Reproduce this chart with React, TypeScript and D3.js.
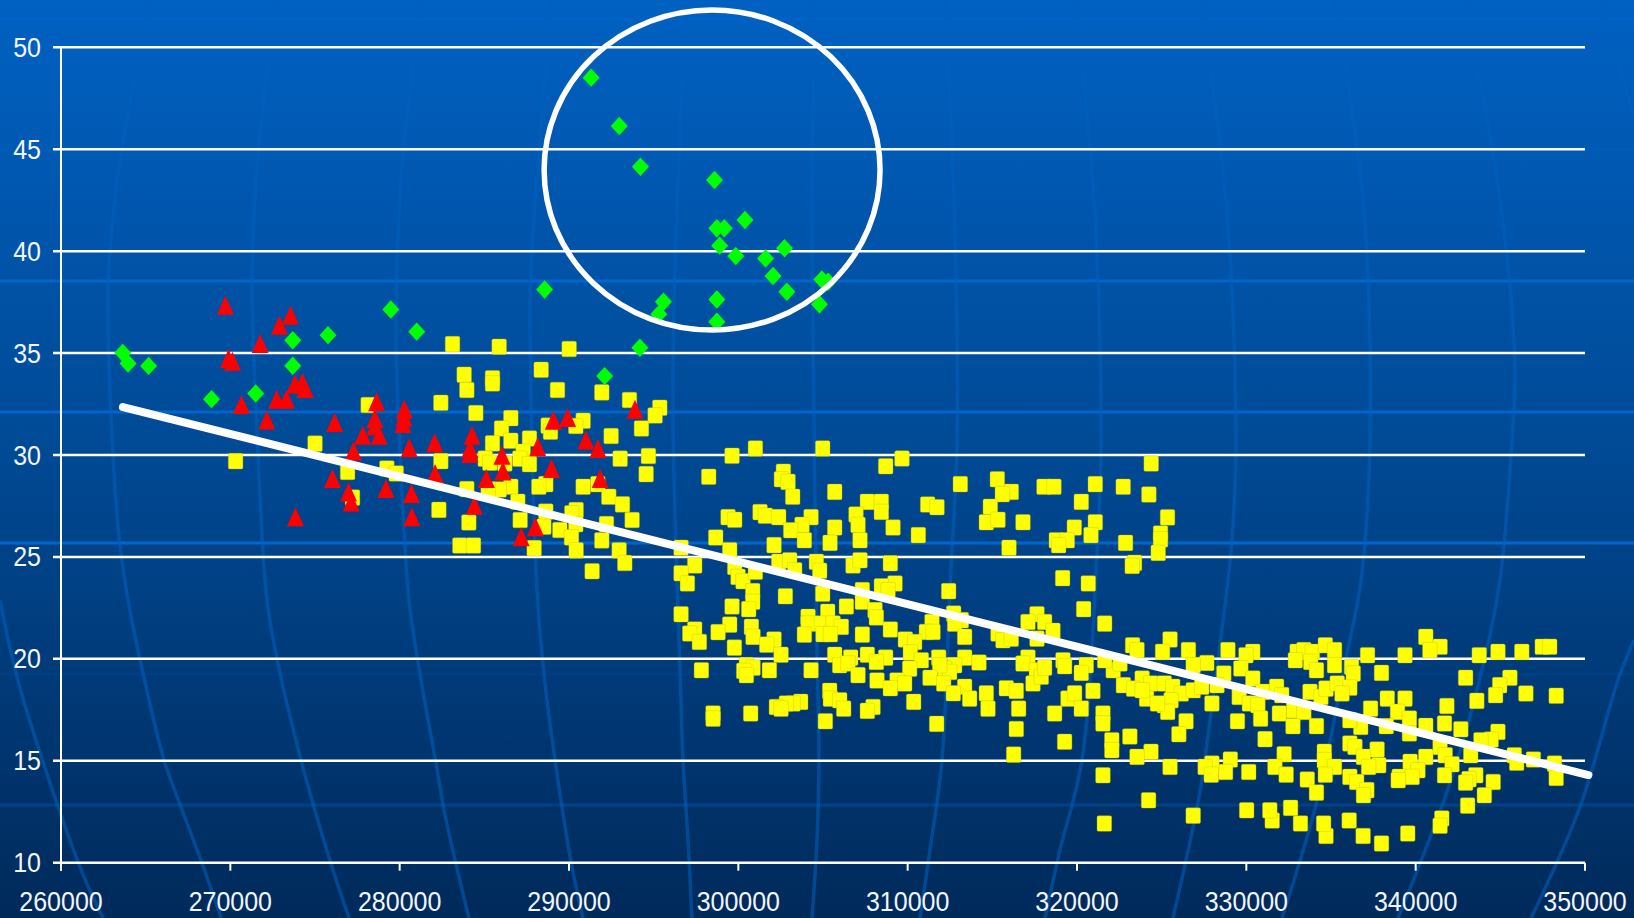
import React from "react";
import * as d3 from "d3";

const W = 1634, H = 918;
const xTicks = [260000, 270000, 280000, 290000, 300000, 310000, 320000, 330000, 340000, 350000];
const yTicks = [10, 15, 20, 25, 30, 35, 40, 45, 50];

const yellow: number[][] = [
[270312,29.70],[275002,30.56],[278138,32.45],[276926,29.17],[277215,27.91],[279244,29.34],[279798,29.09],
[283121,35.44],[285876,35.31],[290009,35.20],[288356,34.18],[283809,33.94],[285482,33.76],[285482,33.51],[283967,33.19],[289320,33.19],[291937,33.07],[293571,32.70],[282432,32.56],[284498,32.06],[295362,32.32],[295086,31.94],[286565,31.81],[286014,31.30],[294279,31.30],[290835,31.68],[290402,31.42],[288769,31.44],[288907,31.14],[292488,30.93],[286565,30.70],[287667,30.81],[285482,30.57],[293020,29.82],[294692,29.95],[282432,29.70],[285049,29.82],[287293,30.16],[287096,29.82],[287667,29.55],[285325,29.62],[286210,29.59],[294555,29.06],[288631,28.57],[288218,28.44],[290835,28.44],[291701,28.57],[292351,27.95],[293157,27.58],[283967,28.33],[286565,28.44],[285876,28.31],[285226,28.31],[286978,27.71],[282314,27.31],[288631,27.22],[290422,27.30],[290166,27.14],[284085,26.69],[287116,26.81],[293728,26.81],[292213,26.61],[290402,26.61],[288513,26.48],[289458,26.32],[290146,25.96],[291937,25.81],[283554,25.56],[284360,25.56],[287942,25.43],[290422,25.32],[292961,25.32],[293295,24.70],[291366,24.30],
[324382,29.58],[322729,28.44],[324245,28.06],[325347,26.94],[324933,26.15],[324933,25.86],[324796,25.20],[322867,25.69],[323398,24.71],[323261,24.56],
[299629,29.96],[301007,30.32],[304982,30.32],[309666,29.83],[308702,29.45],[298252,28.93],[302660,29.18],[302542,28.81],[302936,28.68],[303211,27.95],[305691,28.19],[313110,28.57],[315295,28.81],[316121,28.19],[315590,28.08],[318050,28.44],[318640,28.44],[321081,28.57],[320254,27.70],[307619,27.70],[308446,27.70],[308446,27.21],[306950,27.08],[311182,27.57],[311733,27.44],[314881,27.46],[299393,26.95],[299787,26.82],[301282,27.20],[301597,27.02],[302385,26.95],[304294,26.95],[303762,26.57],[303093,26.31],[305691,26.44],[307069,26.57],[309135,26.44],[314645,26.70],[315334,26.82],[316810,26.70],[319841,26.44],[321081,26.70],[310630,26.07],[298665,25.95],[303900,25.82],[305415,25.69],[307186,25.82],[320825,26.07],[318778,25.82],[319427,25.82],[318916,25.58],[302109,25.58],[315983,25.45],[296618,25.45],[299492,25.33],
[297425,24.58],[296618,24.20],[296992,23.70],[299787,24.51],[299984,24.02],[300279,23.81],[301007,24.27],[302385,24.76],[303034,24.84],[303329,24.35],[304608,24.76],[304805,24.32],[306773,24.58],[307186,24.84],[308977,24.69],[319152,23.96],[320667,23.70],[312421,23.32],[309253,23.70],[308446,23.56],[308840,23.37],[307324,23.37],[307324,22.80],[304982,23.19],[300850,23.32],[300850,22.80],[302778,23.07],[300613,22.44],[299629,22.57],[306380,22.57],[308072,22.39],[308151,22.03],[305278,22.31],[320392,22.44],[296618,22.19],[312717,22.22],[313169,21.90],[312776,21.73],[317637,22.19],[317105,21.81],[318089,21.81],[311437,21.81],[311103,21.32],[311496,21.32],[318581,21.37],[321634,21.73],[304116,22.06],[304116,21.73],[299492,21.68],[297425,21.44],[297130,21.24],[298803,21.31],[300771,21.57],[300869,21.08],[304904,21.73],[305592,21.73],[306084,21.57],[303900,21.19],[305002,21.21],[305435,21.21],[307324,21.19],[308977,21.44],[309863,20.95],[310414,20.83],[313366,21.08],[315334,21.24],[315629,20.91],[316121,20.99],[317637,20.99],[297700,20.83],[299767,20.55],[302109,20.95],[301676,20.70],[302522,20.20],[305691,20.20],[306636,20.06],[307619,20.20],[308702,20.06],[308151,19.85],[305986,19.69],[306478,19.77],[310158,20.31],[310808,19.93],[311831,20.06],[313366,20.06],[314212,19.82],[317105,20.06],[316810,19.77],[319172,19.93],[319270,19.64],[320549,19.69],[320254,19.31],[297819,19.44],[300476,19.69],[300869,19.57],[300318,19.41],[300476,19.20],[301834,19.44],[304294,19.44],[307069,19.20],[310119,19.52],[312776,19.69],[312185,19.52],[312480,19.36],[311890,19.69],[317598,19.44],[317401,18.79],[317893,19.12],[318089,19.57],[308190,18.94],[309371,18.94],[309824,18.79],[311319,19.07],[312126,18.79],[308977,18.56],[313366,18.63],[312697,18.31],[313661,18.05],[314645,18.31],[315826,18.56],[316416,18.43],[319467,18.05],[319860,18.31],[320943,18.43],[305396,18.43],[305435,18.05],[305986,17.97],[306222,17.56],[310355,17.89],[303683,17.89],[303231,17.81],[302837,17.81],[302247,17.64],[302522,17.56],[307954,17.64],[307619,17.45],[314743,17.56],[316554,17.56],[320254,17.56],[318680,17.32],[298508,17.32],[298508,17.07],[300731,17.32],[305140,16.94],[311713,16.81],[316416,16.56],[319270,15.93],[316259,15.30],
[323283,20.67],[323544,20.43],[325495,20.95],[325052,20.34],[326581,20.43],[328913,20.43],[330382,20.34],[329979,20.18],[327667,19.80],[326862,19.69],[329677,19.53],[333000,20.34],[333398,20.43],[333901,20.34],[332895,19.93],[333800,19.85],[334665,20.67],[335208,20.43],[335208,19.69],[334142,19.44],[337159,20.18],[339371,20.18],[340597,21.08],[341442,20.59],[340838,20.43],[343754,20.18],[344860,20.34],[346268,20.34],[347475,20.59],[347917,20.59],[336213,19.61],[336314,19.28],[337983,19.31],[322136,19.44],[323846,19.03],[322740,18.71],[323343,18.54],[324349,18.79],[325153,18.79],[324107,18.05],[323846,18.46],[325656,18.63],[326158,18.30],[326862,18.46],[325153,17.73],[325555,17.97],[325354,17.40],[327968,17.81],[328672,19.28],[330382,19.03],[328270,18.71],[327365,18.63],[330985,18.38],[329577,18.13],[330180,17.81],[330683,17.73],[331789,18.63],[332091,18.22],[331950,17.32],[330844,17.07],[329476,16.94],[332794,17.48],[333398,17.40],[332754,16.70],[334142,16.70],[333760,18.38],[334403,18.13],[334705,18.54],[335369,18.79],[336113,18.59],[335650,18.30],[337339,17.56],[338325,18.05],[339371,18.05],[338928,17.40],[339631,17.07],[338264,16.70],[336756,16.66],[336113,16.99],[339631,16.34],[340597,16.71],[341844,17.69],[341704,16.83],[343613,17.94],[342949,19.07],[345565,19.07],[344961,18.71],[344720,18.22],[346510,18.30],[348299,18.19],[342668,16.55],[344860,16.42],[344458,16.04],[343854,16.01],[341442,15.68],[341744,15.27],[342146,14.83],[343251,15.27],[341704,14.29],[345825,15.27],[345966,14.90],[346952,15.06],[348198,14.86],[348299,14.16],[343553,14.29],[343150,14.10],[342949,13.93],[344579,13.96],[344056,13.31],[343070,12.80],[341543,12.17],[341442,11.81],[339532,11.43],[337983,10.94],[336897,11.31],[336073,12.07],[334705,11.31],[334565,11.92],[333197,11.92],[332613,12.69],[331528,12.07],[331387,12.57],[330019,12.57],[326862,12.31],[324228,13.06],[321614,11.92],[334604,15.44],[334604,15.03],[335208,14.70],[334665,14.32],[336113,15.85],[336415,15.68],[337722,15.55],[336917,15.19],[337822,14.78],[337219,14.70],[336113,14.21],[336515,13.96],[337118,13.56],[336917,13.31],[339672,14.95],[340597,15.19],[340135,14.54],[339029,14.21],[339793,14.21],[338968,14.05],[332232,15.32],[331689,14.70],[332352,14.32],[333599,14.08],[334142,13.44],[330140,14.45],[329054,15.06],[328773,14.45],[327968,14.86],[327566,14.70],[327928,14.32],[325495,14.70],[324369,15.44],[323544,15.19],[323122,16.19],[322056,16.01],[322056,15.52],[321533,17.32],[321533,16.83],[321533,14.29],[331105,16.06],[326440,16.94],[326017,16.30],[322539,19.77],[321634,19.93],[324751,17.81],
];

const red: number[][] = [
[269706,37.35],[273553,36.86],[272894,36.37],[271761,35.47],[269890,34.73],[270127,34.60],[274264,33.56],[273817,33.48],[274423,33.26],[272736,32.74],[273316,32.74],[270654,32.48],[272156,31.72],[276162,31.59],[278638,32.61],[278533,31.79],[278533,31.43],[278797,30.97],[277821,30.97],[277269,30.20],[280272,32.25],[280246,31.87],[280193,31.55],[280562,30.35],[282064,30.60],[284278,30.97],[284146,30.32],[284146,30.07],[286042,29.99],[286096,29.22],[285121,28.85],[288151,30.40],[289073,31.71],[289917,31.84],[291000,30.73],[291709,30.32],[293896,32.25],[288968,29.34],[291841,28.85],[276030,28.85],[276979,28.19],[277137,27.70],[279192,28.36],[280694,28.11],[282090,29.09],[280721,26.97],[273843,26.97],[284410,27.54],[288020,26.48],[287176,25.99],
];

const green: number[][] = [
[291306,48.51],[292967,46.14],[294220,44.14],[298593,43.49],[300390,41.53],[298728,41.12],[299169,41.12],[298897,40.27],[299846,39.76],[301609,39.64],[302727,40.14],[302049,38.78],[302862,38.01],[304930,38.61],[305303,38.50],[304795,37.39],[298728,37.63],[298728,36.54],[295576,37.52],[295304,36.91],[288561,38.12],[279478,37.14],[281004,36.05],[273685,35.63],[275767,35.88],[263645,35.01],[263961,34.49],[265174,34.37],[273685,34.38],[268889,32.74],[271498,33.02],[292104,33.87],[294185,35.26],
];

const trendX = [263660, 350200];
const trendY = [32.35, 14.3];
const circleCenter = [298450, 43.98];
const circleRadii = [9920, 7.85];

// decorative globe pattern of the slide background (page pixels, not data)
const meridians: [number, number][][] = [
  [[0,600],[17,677],[50,783],[84,877],[103,918]],
  [[152,0],[120,160],[109,267],[108,327],[118,527],[128,600],[143,673],[164,760],[181,807],[202,863],[221,918]],
  [[275,0],[256,180],[252,290],[257,430],[267,600],[280,673],[301,760],[314,807],[332,867],[349,918]],
  [[422,0],[402,167],[396,333],[400,450],[409,600],[421,680],[436,763],[444,810],[459,877],[469,918]],
  [[551,0],[531,267],[530,330],[537,590],[545,683],[556,767],[562,807],[572,867],[583,918]],
  [[686,0],[675,267],[673,420],[680,670],[683,760],[688,840],[692,918]],
  [[815,0],[812,200],[814,420],[817,653],[819,760],[817,840],[812,918]],
  [[945,0],[954,200],[957,440],[950,587],[942,760],[930,850],[920,918]],
  [[1075,0],[1094,200],[1101,440],[1097,553],[1082,760],[1060,850],[1045,918]],
  [[1200,0],[1226,200],[1236,440],[1232,540],[1228,580],[1211,713],[1199,797],[1173,918]],
  [[1334,0],[1363,200],[1370,440],[1361,580],[1345,663],[1318,797],[1282,918]],
  [[1464,0],[1500,200],[1515,367],[1512,440],[1500,580],[1485,657],[1451,780],[1398,918]],
  [[1601,0],[1634,117]],
  [[1634,640],[1618,680],[1580,807],[1531,918]],
];
const parallels: [number, number][] = [[19,0.45],[150,0.25],[281,1],[412,1],[543,1],[674,0.12],[805,0.3]];

const x = d3.scaleLinear().domain([260000, 350000]).range([61, 1585]);
const y = d3.scaleLinear().domain([10, 50]).range([862.7, 47.3]);
const meridianPath = d3.line<[number, number]>().curve(d3.curveCatmullRom);
const trend = d3.line<number>().x((d) => x(trendX[d])).y((d) => y(trendY[d]));
const font = '"Liberation Sans", Arial, sans-serif';
const labelStretch = 1.07;

export default function App() {
  return (
    <svg width={W} height={H} viewBox={`0 0 ${W} ${H}`} style={{ position: "fixed", left: 0, top: 0, display: "block" }}>
      <defs>
        <linearGradient id="bg" x1="0" y1="0" x2="0" y2="1">
          <stop offset="0" stopColor="#0061C2" />
          <stop offset="0.48" stopColor="#004A96" />
          <stop offset="1" stopColor="#002A5A" />
        </linearGradient>
      </defs>
      <rect width={W} height={H} fill="url(#bg)" />
      {parallels.map(([py, o]) => (
        <line key={py} x1={0} x2={W} y1={py} y2={py} stroke="#0066CC" strokeOpacity={o} strokeWidth={3} />
      ))}
      {meridians.map((m, i) => (
        <path key={i} d={meridianPath(m) as string} fill="none" stroke="#0060C0" strokeOpacity={0.55} strokeWidth={3.5} />
      ))}
      {yTicks.map((t) => (
        <g key={t}>
          <line x1={53} x2={x.range()[1]} y1={y(t)} y2={y(t)} stroke="#fff" strokeWidth={2.5} />
          <text transform={`translate(41,${y(t) + 9.5}) scale(1,${labelStretch})`} textAnchor="end" fill="#F2F6FB" fontFamily={font} fontSize={25}>{t}</text>
        </g>
      ))}
      <line x1={x.range()[0]} x2={x.range()[0]} y1={y(50)} y2={y(10) + 8} stroke="#fff" strokeWidth={2} />
      {xTicks.map((t) => (
        <g key={t}>
          <line x1={x(t)} x2={x(t)} y1={y(10)} y2={y(10) + 8} stroke="#fff" strokeWidth={2} />
          <text transform={`translate(${x(t)},911) scale(1,${labelStretch})`} textAnchor="middle" fill="#F2F6FB" fontFamily={font} fontSize={25}>{t}</text>
        </g>
      ))}
      {yellow.map(([a, b], i) => (
        <rect key={i} x={x(a) - 7.3} y={y(b) - 7.8} width={14.6} height={15.6} rx={1.5} fill="#FFFF00" stroke="#B8B820" strokeOpacity={0.6} strokeWidth={0.6} />
      ))}
      {red.map(([a, b], i) => (
        <path key={i} transform={`translate(${x(a)},${y(b)})`} d="M0,-9.5L8.5,9.5L-8.5,9.5Z" fill="#FF0000" />
      ))}
      {green.map(([a, b], i) => (
        <path key={i} transform={`translate(${x(a)},${y(b)})`} d="M0,-9.2L8.5,0L0,9.2L-8.5,0Z" fill="#00FF00" />
      ))}
      <path d={trend([0, 1]) as string} fill="none" stroke="#fff" strokeWidth={8} strokeLinecap="round" />
      <ellipse
        cx={x(circleCenter[0])}
        cy={y(circleCenter[1])}
        rx={x(circleCenter[0] + circleRadii[0]) - x(circleCenter[0])}
        ry={y(circleCenter[1] - circleRadii[1]) - y(circleCenter[1])}
        fill="none"
        stroke="#fff"
        strokeWidth={5.5}
      />
    </svg>
  );
}
